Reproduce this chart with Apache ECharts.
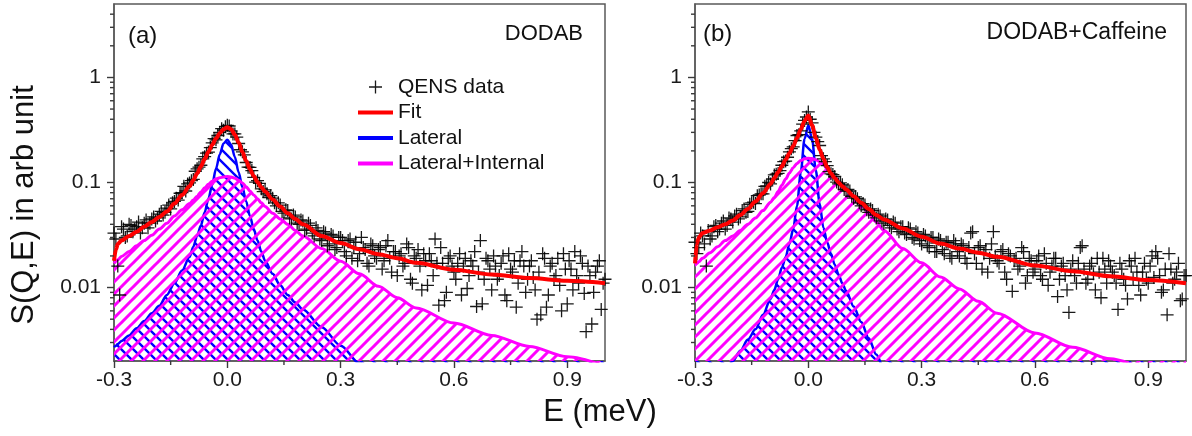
<!DOCTYPE html>
<html>
<head>
<meta charset="utf-8">
<script src="https://cdn.jsdelivr.net/npm/echarts@6/dist/echarts.min.js"></script>
<style>
  html, body { margin: 0; padding: 0; background: #fff; }
  #chart { width: 1192px; height: 436px; }
</style>
</head>
<body>
<div id="chart"></div>
<script>
// measured energies of the QENS points (meV), two interleaved channel sets
const energy = [-0.30,-0.29,-0.28,-0.27,-0.26,-0.25,-0.24,-0.23,-0.22,-0.21,
  -0.20,-0.19,-0.18,-0.17,-0.16,-0.15,-0.14,-0.13,-0.12,-0.11,
  -0.10,-0.09,-0.08,-0.07,-0.06,-0.05,-0.04,-0.03,-0.02,-0.01,
  0.00,0.01,0.02,0.03,0.04,0.05,0.06,0.07,0.08,0.09,
  0.10,0.11,0.12,0.13,0.14,0.15,0.16,0.17,0.18,0.19,
  0.20,0.21,0.22,0.23,0.24,0.25,0.26,0.27,0.28,0.29,
  0.30,0.31,0.32,0.33,0.34,0.35,0.36,0.37,0.38,0.39,
  0.40,0.41,0.42,0.43,0.44,0.45,0.46,0.47,0.48,0.49,
  0.50,0.51,0.52,0.53,0.54,0.55,0.56,0.57,0.58,0.59,
  0.60,0.61,0.62,0.63,0.64,0.65,0.66,0.67,0.68,0.69,
  0.70,0.71,0.72,0.73,0.74,0.75,0.76,0.77,0.78,0.79,
  0.80,0.81,0.82,0.83,0.84,0.85,0.86,0.87,0.88,0.89,
  0.90,0.91,0.92,0.93,0.94,0.95,0.96,0.97,0.98,0.99,
  1.00];
const energyMid = [-0.295,-0.285,-0.275,-0.265,-0.255,-0.245,-0.235,-0.225,-0.215,-0.205,
  -0.195,-0.185,-0.175,-0.165,-0.155,-0.145,-0.135,-0.125,-0.115,-0.105,
  -0.095,-0.085,-0.075,-0.065,-0.055,-0.045,-0.035,-0.025,-0.015,-0.005,
  0.005,0.015,0.025,0.035,0.045,0.055,0.065,0.075,0.085,0.095,
  0.105,0.115,0.125,0.135,0.145,0.155,0.165,0.175,0.185,0.195,
  0.205,0.215,0.225,0.235,0.245,0.255,0.265,0.275,0.285,0.295,
  0.305,0.315,0.325,0.335,0.345,0.355,0.365,0.375,0.385,0.395,
  0.405,0.415,0.425,0.435,0.445,0.455,0.465,0.475,0.485,0.495,
  0.505,0.515,0.525,0.535,0.545,0.555,0.565,0.575,0.585,0.595,
  0.605,0.615,0.625,0.635,0.645,0.655,0.665,0.675,0.685,0.695,
  0.705,0.715,0.725,0.735,0.745,0.755,0.765,0.775,0.785,0.795,
  0.805,0.815,0.825,0.835,0.845,0.855,0.865,0.875,0.885,0.895,
  0.905,0.915,0.925,0.935,0.945,0.955,0.965,0.975,0.985,0.995];

// (a) DODAB
const qensA = [0.033,0.016,0.038,0.030,0.040,0.034,0.038,0.033,0.041,0.037,
  0.045,0.043,0.050,0.049,0.057,0.056,0.066,0.068,0.080,0.083,
  0.099,0.107,0.135,0.146,0.176,0.195,0.238,0.255,0.300,0.315,
  0.350,0.310,0.290,0.235,0.196,0.155,0.139,0.112,0.104,0.087,
  0.085,0.072,0.071,0.060,0.061,0.051,0.054,0.045,0.047,0.040,
  0.043,0.036,0.039,0.031,0.035,0.028,0.033,0.026,0.031,0.024,
  0.030,0.022,0.028,0.019,0.027,0.021,0.024,0.017,0.026,0.020,
  0.023,0.015,0.025,0.019,0.022,0.013,0.021,0.017,0.024,0.011,
  0.019,0.016,0.021,0.0105,0.018,0.029,0.0068,0.017,0.009,0.020,
  0.014,0.017,0.0085,0.019,0.013,0.016,0.0066,0.028,0.012,0.018,
  0.0095,0.016,0.013,0.020,0.0075,0.015,0.018,0.011,0.022,0.009,
  0.016,0.0125,0.005,0.0055,0.019,0.0085,0.017,0.013,0.0105,0.021,
  0.007,0.015,0.022,0.011,0.017,0.0038,0.013,0.009,0.016,0.0062,
  0.012];
const qensAMid = [0.029,0.0085,0.036,0.031,0.039,0.036,0.042,0.037,0.044,0.041,
  0.047,0.046,0.053,0.052,0.061,0.064,0.071,0.079,0.092,0.097,
  0.104,0.128,0.140,0.168,0.190,0.215,0.262,0.280,0.325,0.340,
  0.345,0.290,0.270,0.205,0.183,0.140,0.130,0.101,0.098,0.082,
  0.078,0.075,0.064,0.064,0.053,0.055,0.046,0.049,0.041,0.044,
  0.035,0.041,0.033,0.037,0.029,0.034,0.025,0.032,0.023,0.030,
  0.028,0.020,0.029,0.024,0.018,0.030,0.023,0.016,0.025,0.019,
  0.024,0.018,0.028,0.014,0.022,0.020,0.016,0.026,0.012,0.020,
  0.023,0.0095,0.018,0.021,0.013,0.017,0.024,0.0075,0.019,0.016,
  0.012,0.021,0.016,0.0098,0.018,0.022,0.014,0.007,0.019,0.015,
  0.020,0.012,0.017,0.0085,0.021,0.014,0.0065,0.018,0.016,0.012,
  0.018,0.0095,0.014,0.021,0.0065,0.016,0.012,0.019,0.006,0.015,
  0.018,0.0095,0.013,0.020,0.0088,0.016,0.0045,0.014,0.018,0.011];

// (b) DODAB+Caffeine
const qensB = [0.027,0.024,0.031,0.016,0.029,0.038,0.034,0.041,0.036,0.046,
  0.042,0.050,0.047,0.056,0.053,0.064,0.063,0.076,0.078,0.093,
  0.097,0.118,0.122,0.146,0.160,0.196,0.218,0.280,0.310,0.390,
  0.470,0.370,0.270,0.225,0.168,0.145,0.121,0.114,0.097,0.095,
  0.083,0.083,0.071,0.070,0.060,0.061,0.052,0.054,0.046,0.048,
  0.041,0.044,0.037,0.041,0.034,0.038,0.032,0.036,0.029,0.033,
  0.026,0.031,0.024,0.030,0.022,0.028,0.021,0.027,0.019,0.026,
  0.020,0.025,0.017,0.033,0.021,0.024,0.015,0.023,0.019,0.034,
  0.018,0.022,0.014,0.021,0.0092,0.019,0.016,0.022,0.013,0.018,
  0.015,0.020,0.012,0.017,0.014,0.019,0.0082,0.016,0.013,0.0058,
  0.018,0.011,0.024,0.015,0.012,0.017,0.0095,0.014,0.019,0.011,
  0.016,0.013,0.0062,0.015,0.0105,0.018,0.012,0.014,0.0085,0.017,
  0.011,0.020,0.022,0.013,0.0095,0.0055,0.015,0.012,0.017,0.0078,
  0.013];
const qensBMid = [0.021,0.033,0.026,0.035,0.031,0.039,0.036,0.043,0.039,0.045,
  0.048,0.045,0.054,0.052,0.062,0.065,0.075,0.078,0.092,0.100,
  0.108,0.120,0.130,0.158,0.174,0.210,0.250,0.285,0.360,0.420,
  0.400,0.300,0.245,0.180,0.158,0.127,0.119,0.101,0.099,0.086,
  0.086,0.074,0.073,0.064,0.063,0.055,0.056,0.049,0.050,0.043,
  0.045,0.039,0.042,0.036,0.038,0.033,0.037,0.030,0.034,0.028,
  0.032,0.025,0.030,0.022,0.029,0.023,0.027,0.020,0.028,0.022,
  0.026,0.019,0.024,0.034,0.017,0.025,0.021,0.014,0.026,0.020,
  0.017,0.023,0.012,0.020,0.018,0.015,0.024,0.011,0.019,0.014,
  0.018,0.013,0.021,0.0105,0.016,0.019,0.012,0.017,0.0095,0.015,
  0.013,0.017,0.025,0.011,0.016,0.0135,0.019,0.008,0.015,0.018,
  0.014,0.011,0.017,0.012,0.0078,0.016,0.019,0.0105,0.014,0.012,
  0.016,0.0125,0.019,0.009,0.015,0.021,0.011,0.014,0.0075,0.013];

// energies where the model curves were read
const curveE = [-0.3,-0.295,-0.29,-0.28,-0.26,-0.24,-0.22,-0.2,-0.18,-0.16,-0.14,-0.12,-0.1,
  -0.09,-0.08,-0.07,-0.06,-0.05,-0.04,-0.03,-0.02,-0.01,0,0.01,0.02,0.03,0.04,0.05,0.06,
  0.07,0.08,0.09,0.1,0.12,0.14,0.16,0.18,0.2,0.25,0.3,0.35,0.4,0.45,0.5,0.6,0.7,0.8,0.9,1.0];

const fitA = [0.018,0.023,0.026,0.028,0.031,0.034,0.038,0.042,0.047,0.053,0.063,0.076,0.092,
  0.105,0.122,0.142,0.167,0.196,0.228,0.262,0.295,0.322,0.335,0.322,0.285,0.24,0.195,0.16,0.134,
  0.115,0.101,0.09,0.082,0.069,0.059,0.051,0.045,0.040,0.031,0.0265,0.0232,0.0208,0.019,0.0172,
  0.0148,0.0133,0.0123,0.0116,0.011];
const latA = [0.0027,0.0028,0.0029,0.0031,0.0035,0.0041,0.0048,0.0057,0.0067,0.0085,0.011,0.0145,0.0195,
  0.0245,0.031,0.039,0.052,0.07,0.095,0.135,0.185,0.235,0.255,0.23,0.175,0.125,0.09,0.066,0.048,
  0.036,0.028,0.022,0.018,0.0135,0.0105,0.0085,0.0072,0.0062,0.0042,0.0028,0.0019,0.0013,0.0009,0.0007,
  0.0005,0.0004,0.0003,0.0003,0.0002];
const latIntA = [0.017,0.0177,0.0184,0.0198,0.022,0.025,0.028,0.0315,0.036,0.041,0.048,0.055,0.063,
  0.068,0.074,0.081,0.089,0.096,0.103,0.108,0.111,0.113,0.114,0.113,0.11,0.105,0.099,0.091,0.083,
  0.076,0.07,0.064,0.059,0.051,0.045,0.040,0.035,0.031,0.0235,0.0178,0.0135,0.0103,0.0080,0.0064,
  0.0046,0.0035,0.00275,0.0022,0.0018];

const fitB = [0.017,0.026,0.030,0.033,0.035,0.0375,0.040,0.0435,0.049,0.056,0.066,0.079,0.097,
  0.11,0.125,0.143,0.165,0.19,0.222,0.265,0.32,0.385,0.435,0.35,0.265,0.205,0.168,0.14,0.122,
  0.11,0.1,0.092,0.086,0.074,0.064,0.056,0.049,0.0445,0.0365,0.0305,0.0262,0.0235,0.0215,0.0196,
  0.0162,0.0143,0.0128,0.0118,0.011];
const latB = [0.0007,0.00075,0.0008,0.0009,0.0011,0.0013,0.0016,0.002,0.0025,0.0032,0.004,0.0055,0.0078,
  0.0095,0.012,0.0155,0.0195,0.026,0.036,0.06,0.125,0.26,0.35,0.26,0.13,0.063,0.037,0.027,0.021,
  0.0165,0.0133,0.011,0.0093,0.0066,0.0047,0.0033,0.0023,0.0017,0.0009,0.0006,0.0004,0.0003,0.0002,0.00015,
  0.0001,0.0001,0.0001,0.0001,0.0001];
const latIntB = [0.0165,0.017,0.0176,0.019,0.0215,0.0245,0.028,0.031,0.035,0.040,0.046,0.054,0.065,
  0.072,0.082,0.094,0.108,0.123,0.138,0.152,0.162,0.168,0.17,0.169,0.165,0.158,0.148,0.135,0.124,
  0.113,0.104,0.095,0.087,0.074,0.062,0.051,0.042,0.035,0.0235,0.0172,0.0126,0.0097,0.0074,0.0057,
  0.0037,0.0027,0.0021,0.00172,0.00145];

// axis ticks
const xMin = -0.3, xMax = 1.0, yMin = 0.002, yMax = 5;
const xMinorTicks = [-0.15, 0.15, 0.45, 0.75];
const yMinorTicks = [0.003,0.004,0.005,0.006,0.007,0.008,0.009,
  0.02,0.03,0.04,0.05,0.06,0.07,0.08,0.09,
  0.2,0.3,0.4,0.5,0.6,0.7,0.8,0.9, 2,3,4];

const FONT = '"Liberation Sans", Arial, sans-serif';
const FRAME_COLOR = '#5a5a5a';
const TICK_COLOR = '#3a3a3a';
const CROSS = 'path://M5.85 0h1.3v5.85h5.85v1.3h-5.85v5.85h-1.3v-5.85h-5.85v-1.3h5.85z';
const BAR = 'path://M0 0H35V4H0Z';

function hatch(color, forward, width) {
  // square tile with one 45 degree stripe
  const s = 12;
  const c = document.createElement('canvas');
  c.width = c.height = s;
  const g = c.getContext('2d');
  g.strokeStyle = color;
  g.lineWidth = width;
  g.beginPath();
  [-s, 0, s].forEach(function (o) {
    if (forward) { g.moveTo(o - 1, s + 1); g.lineTo(o + s + 1, -1); }
    else { g.moveTo(o - 1, -1); g.lineTo(o + s + 1, s + 1); }
  });
  g.stroke();
  return c;
}
const blueHatch = { image: hatch('#0000ff', false, 2.4), repeat: 'repeat' };
const pinkHatch = { image: hatch('#ff00ff', true, 3), repeat: 'repeat' };

function zip(xs, ys) {
  return xs.map(function (x, i) { return [x, ys[i]]; });
}

// short outward minor tick marks placed through the axis scales
function tickSeries(i, data, dx, dy) {
  return {
    type: 'custom', xAxisIndex: i, yAxisIndex: i, silent: true, clip: false,
    encode: { x: 0, y: 1 },
    data: data,
    renderItem: function (params, api) {
      const p = api.coord([api.value(0), api.value(1)]);
      return {
        type: 'line',
        shape: { x1: p[0] + dx, y1: p[1] + dy, x2: p[0], y2: p[1] },
        style: { stroke: TICK_COLOR, lineWidth: 1.4 }
      };
    },
    z: 10
  };
}

function panelSeries(i, qens, qensMid, fit, lat, latInt) {
  return [
    {
      name: 'Lateral', type: 'line', xAxisIndex: i, yAxisIndex: i,
      data: zip(curveE, lat), symbol: 'none', smooth: 0.3, smoothMonotone: 'x',
      itemStyle: { color: '#0000ff' },
      lineStyle: { color: '#0000ff', width: 2.5 },
      areaStyle: { color: blueHatch, origin: 'start', opacity: 1 },
      z: 2
    },
    {
      name: 'Lateral+Internal', type: 'line', xAxisIndex: i, yAxisIndex: i,
      data: zip(curveE, latInt), symbol: 'none', smooth: 0.3, smoothMonotone: 'x',
      itemStyle: { color: '#ff00ff' },
      lineStyle: { color: '#ff00ff', width: 3 },
      areaStyle: { color: pinkHatch, origin: 'start', opacity: 1 },
      z: 3
    },
    {
      name: 'QENS data', type: 'scatter', xAxisIndex: i, yAxisIndex: i,
      data: zip(energy, qens).concat(zip(energyMid, qensMid)),
      symbol: CROSS, symbolSize: 13,
      itemStyle: { color: '#000', opacity: 0.9 },
      z: 4
    },
    {
      name: 'Fit', type: 'line', xAxisIndex: i, yAxisIndex: i,
      data: zip(curveE, fit), symbol: 'none', smooth: 0.3, smoothMonotone: 'x',
      itemStyle: { color: '#ff0000' },
      lineStyle: { color: '#ff0000', width: 4 },
      z: 5
    },
    tickSeries(i, yMinorTicks.map(function (v) { return [xMin, v]; }), -4, 0),
    tickSeries(i, xMinorTicks.map(function (v) { return [v, yMin]; }), 0, 4)
  ];
}

function xAxis(i) {
  return {
    type: 'value', gridIndex: i, min: xMin, max: xMax, interval: 0.3,
    axisLine: { show: true, onZero: false, lineStyle: { color: FRAME_COLOR, width: 1.5 } },
    axisTick: { show: true, length: 7, lineStyle: { color: TICK_COLOR, width: 1.4 } },
    axisLabel: { fontSize: 21, fontFamily: FONT, color: '#1a1a1a', margin: 9,
      showMaxLabel: false, formatter: function (v) { return v.toFixed(1); } },
    splitLine: { show: false }
  };
}
function yAxis(i) {
  return {
    type: 'log', gridIndex: i, min: yMin, max: yMax, logBase: 10,
    axisLine: { show: true, onZero: false, lineStyle: { color: FRAME_COLOR, width: 1.5 } },
    axisTick: { show: true, length: 7, lineStyle: { color: TICK_COLOR, width: 1.4 } },
    axisLabel: { fontSize: 21, fontFamily: FONT, color: '#1a1a1a', margin: 13,
      showMinLabel: false, showMaxLabel: false },
    splitLine: { show: false }
  };
}

const chart = echarts.init(document.getElementById('chart'), null, { renderer: 'canvas' });
chart.setOption({
  animation: false,
  backgroundColor: '#fff',
  grid: [
    { left: 114, top: 4, width: 491, height: 357, show: true, borderColor: FRAME_COLOR, borderWidth: 1.5 },
    { left: 695, top: 4, width: 491, height: 357, show: true, borderColor: FRAME_COLOR, borderWidth: 1.5 }
  ],
  xAxis: [xAxis(0), xAxis(1)],
  yAxis: [yAxis(0), yAxis(1)],
  legend: {
    orient: 'vertical', left: 358, top: 76.5, padding: 0,
    itemWidth: 35, itemHeight: 13, itemGap: 4.5,
    symbolKeepAspect: true,
    itemStyle: { borderWidth: 0 },
    textStyle: { fontSize: 21, fontFamily: FONT, color: '#111' },
    data: [
      { name: 'QENS data', icon: CROSS },
      { name: 'Fit', icon: BAR },
      { name: 'Lateral', icon: BAR },
      { name: 'Lateral+Internal', icon: BAR }
    ]
  },
  graphic: [
    { type: 'text', x: 128, y: 36, style: { text: '(a)', font: '24px ' + FONT, fill: '#111', align: 'left', verticalAlign: 'middle' } },
    { type: 'text', x: 583, y: 34, style: { text: 'DODAB', font: '22px ' + FONT, fill: '#111', align: 'right', verticalAlign: 'middle' } },
    { type: 'text', x: 703, y: 34, style: { text: '(b)', font: '24px ' + FONT, fill: '#111', align: 'left', verticalAlign: 'middle' } },
    { type: 'text', x: 1167, y: 33, style: { text: 'DODAB+Caffeine', font: '23px ' + FONT, fill: '#111', align: 'right', verticalAlign: 'middle' } },
    { type: 'text', x: 600, y: 412, style: { text: 'E (meV)', font: '31px ' + FONT, fill: '#111', align: 'center', verticalAlign: 'middle' } },
    { type: 'text', x: 24, y: 205, rotation: Math.PI / 2,
      style: { text: 'S(Q,E) in arb unit', font: '31px ' + FONT, fill: '#111', align: 'center', verticalAlign: 'middle' } }
  ],
  series: panelSeries(0, qensA, qensAMid, fitA, latA, latIntA)
    .concat(panelSeries(1, qensB, qensBMid, fitB, latB, latIntB))
});
</script>
</body>
</html>
